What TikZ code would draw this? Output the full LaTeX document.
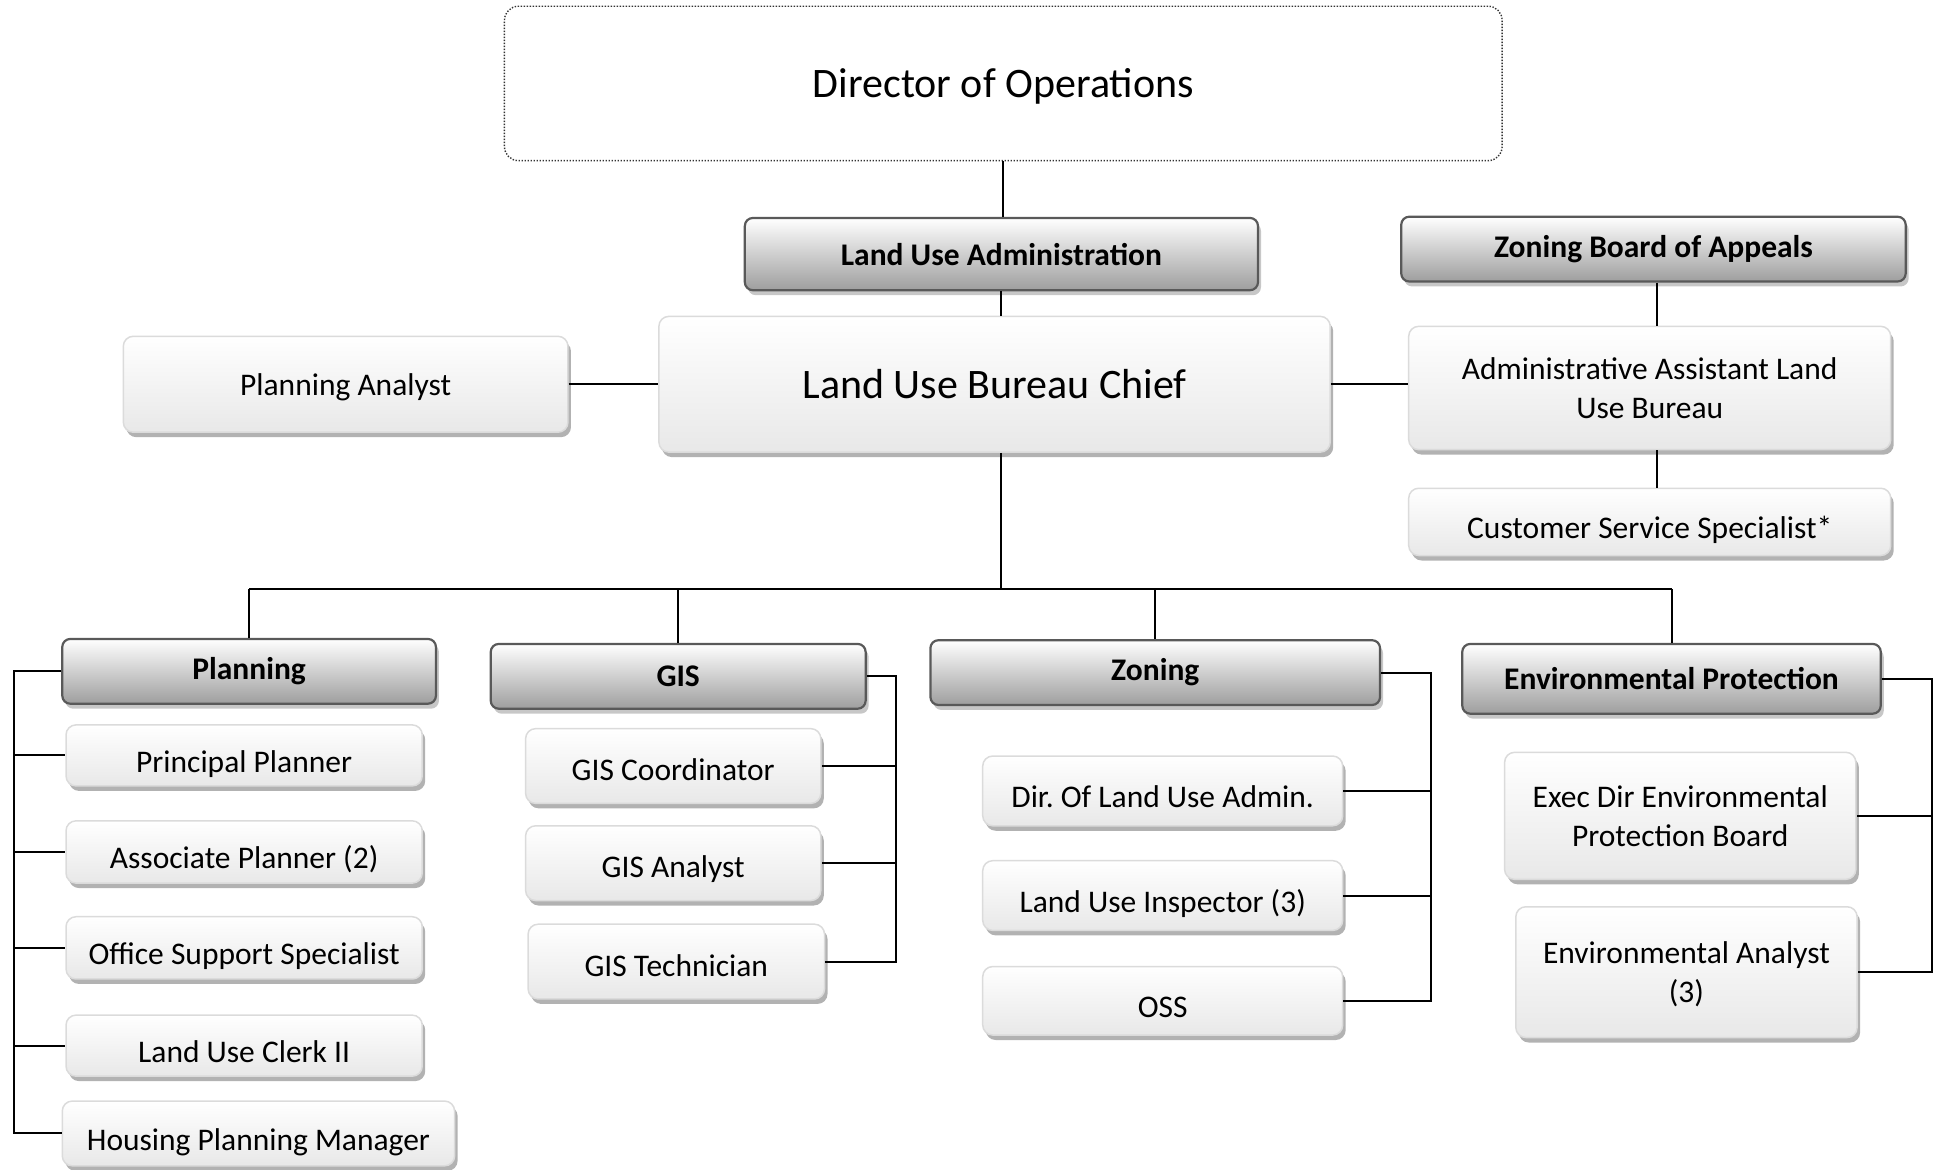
\documentclass[tikz,border=0pt]{standalone}
\usepackage{fontspec}
\setmainfont{Carlito}
\usetikzlibrary{shadows}
\frenchspacing

\tikzset{
  base/.style={inner sep=0pt, align=center, font=\fontsize{31.5}{39}\selectfont},
  head/.style={base, draw=black!65, line width=2.2pt, rounded corners=8pt,
    top color=white, bottom color=black!38,
    font=\fontsize{31.5}{39}\selectfont\bfseries,
    drop shadow={shadow xshift=3pt, shadow yshift=-5pt, fill=black!22, opacity=1}},
  role/.style={base, draw=black!14, line width=1.5pt, rounded corners=10pt,
    top color=white, bottom color=black!9, text depth=0pt,
    drop shadow={shadow xshift=3pt, shadow yshift=-5pt, fill=black!30, opacity=1}},
  low/.style={text height=34pt},
  mid/.style={text height=29pt},
  big/.style={font=\fontsize{42}{50}\selectfont},
  topbox/.style={base, big, draw=black!80, line width=1.4pt, rounded corners=14pt,
    dash pattern=on 1.4pt off 1.6pt, fill=white, text depth=0pt},
  link/.style={line width=2pt, black},
}

% \orgbox{style}{name}{x1}{y1}{x2}{y2}{text}: a box spanning the given corners
\newcommand\orgbox[7]{%
  \pgfmathsetmacro\boxw{(#5-#3)*1.2455}%
  \pgfmathsetmacro\boxh{(#6-#4)*1.2455}%
  \node[#1, minimum width=\boxw pt, minimum height=\boxh pt] (#2)
    at ({(#3+#5)/2},{(#4+#6)/2}) {#7};}

\begin{document}
\begin{tikzpicture}[x=1.2455pt, y=-1.2455pt]
\useasboundingbox (0,0) rectangle (1568,939);

% top of the hierarchy
\orgbox{topbox}{dir}{405}{5}{1206}{129}{Director of Operations}
\orgbox{head}{lua}{598}{175}{1010}{233}{Land Use Administration}
\orgbox{head}{zba}{1125}{174}{1530}{226}{Zoning Board of Appeals}
\orgbox{role}{pa}{99}{270}{456}{347}{Planning Analyst}
\orgbox{role,big}{chief}{529}{254}{1068}{363}{Land Use Bureau Chief}
\orgbox{role}{aa}{1131}{262}{1518}{361}{Administrative Assistant Land\\Use Bureau}
\orgbox{role,low}{css}{1131}{392}{1518}{446}{Customer Service Specialist*}

% divisions
\orgbox{head}{plan}{50}{513}{350}{565}{Planning}
\orgbox{head}{gis}{394}{517}{695}{569}{GIS}
\orgbox{head}{zon}{747}{514}{1108}{566}{Zoning}
\orgbox{head}{env}{1174}{517}{1510}{573}{Environmental Protection}

% planning staff
\orgbox{role,low}{pp}{53}{582}{339}{631}{Principal Planner}
\orgbox{role,low}{ap}{53}{659}{339}{709}{Associate Planner (2)}
\orgbox{role,low}{ossp}{53}{736}{339}{786}{Office Support Specialist}
\orgbox{role,low}{luc}{53}{815}{339}{864}{Land Use Clerk II}
\orgbox{role,low}{hpm}{50}{884}{365}{936}{Housing Planning Manager}

% GIS staff
\orgbox{role,mid}{gc}{422}{585}{659}{645}{GIS Coordinator}
\orgbox{role,mid}{ga}{422}{663}{659}{723}{GIS Analyst}
\orgbox{role,mid}{gt}{424}{742}{662}{802}{GIS Technician}

% zoning staff
\orgbox{role,low}{dl}{789}{607}{1078}{663}{Dir. Of Land Use Admin.}
\orgbox{role,low}{li}{789}{691}{1078}{747}{Land Use Inspector (3)}
\orgbox{role,low}{ossz}{789}{776}{1078}{831}{OSS}

% environmental staff
\orgbox{role}{ed}{1208}{604}{1490}{706}{Exec Dir Environmental\\Protection Board}
\orgbox{role}{ea}{1217}{728}{1491}{833}{Environmental Analyst\\(3)}

% bus lines
\coordinate (busy) at (0,473);
\coordinate (pbus) at (11,0);
\coordinate (gbus) at (719,0);
\coordinate (zbus) at (1149,0);
\coordinate (ebus) at (1551,0);
\coordinate (abus) at (1330,0);

% upper links
\draw[link] (dir.south) -- (dir.south |- lua.north);
\draw[link] (lua.south) -- (lua.south |- chief.north);
\draw[link] (pa.east) -- (chief.west);
\draw[link] (chief.east) -- (chief.east -| aa.west);
\draw[link] (abus |- zba.south) -- (abus |- aa.north);
\draw[link] (abus |- aa.south) -- (abus |- css.north);

% chief to divisions
\draw[link] (lua.south |- chief.south) -- (lua.south |- busy);
\draw[link] (plan.north |- busy) -- (env.north |- busy);
\foreach \d in {plan,gis,zon,env} \draw[link] (\d.north |- busy) -- (\d.north);

% planning branch
\draw[link] (plan.west) -- (pbus |- plan.west) |- (hpm.west);
\foreach \n in {pp,ap,ossp,luc} \draw[link] (pbus |- \n.west) -- (\n.west);

% GIS branch
\draw[link] (gis.east) -- (gbus |- gis.east) |- (gt.east);
\foreach \n in {gc,ga} \draw[link] (gbus |- \n.east) -- (\n.east);

% zoning branch
\draw[link] (zon.east) -- (zbus |- zon.east) |- (ossz.east);
\foreach \n in {dl,li} \draw[link] (zbus |- \n.east) -- (\n.east);

% environmental branch
\draw[link] (env.east) -- (ebus |- env.east) |- (ea.east);
\draw[link] (ebus |- ed.east) -- (ed.east);
\end{tikzpicture}
\end{document}
